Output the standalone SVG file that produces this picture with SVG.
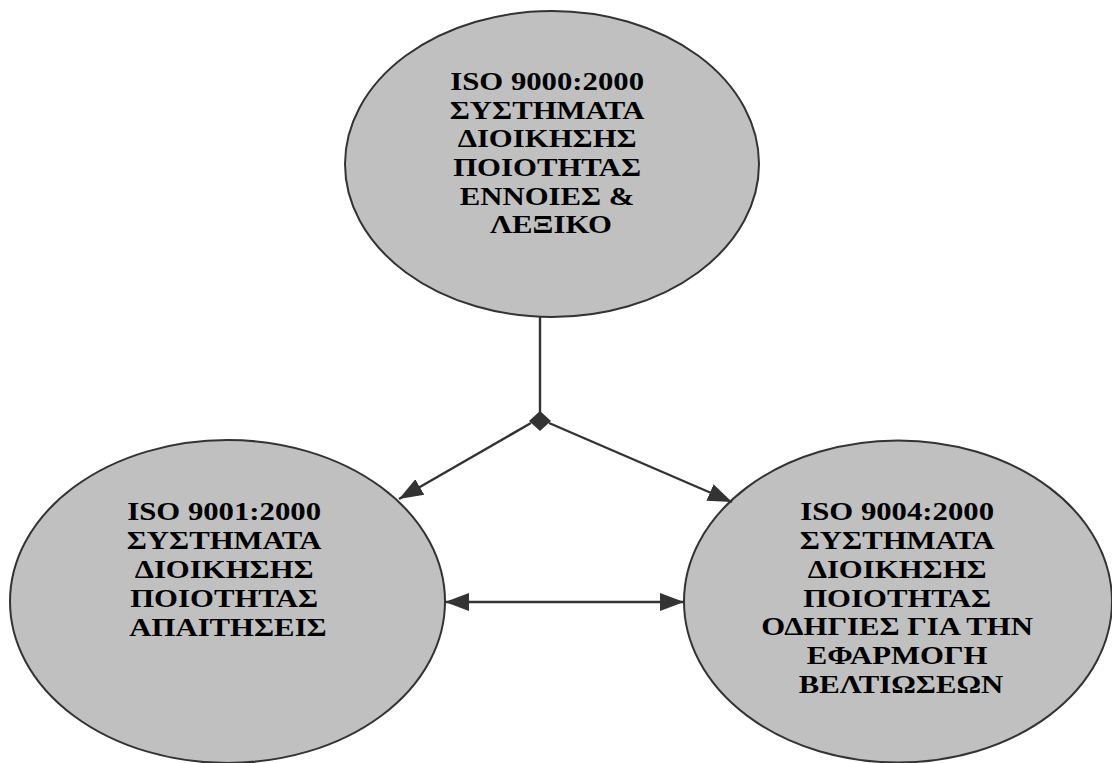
<svg xmlns="http://www.w3.org/2000/svg" width="1112" height="763" viewBox="0 0 1112 763">
<style>
.node{fill:#c0c0c0;stroke:#333;stroke-width:2}
.lbl{font-family:"Liberation Serif","Times New Roman",serif;font-weight:bold;font-size:25px;fill:#000;text-anchor:middle}
.conn{stroke:#333;stroke-width:2.4;fill:none}
</style>
<defs>
<marker id="ah" markerUnits="userSpaceOnUse" markerWidth="24" markerHeight="20" refX="24" refY="10" orient="auto-start-reverse" viewBox="0 0 24 20">
<path d="M0,1 L24,10 L0,19 z" fill="#333"/>
</marker>
</defs>
<rect width="1112" height="763" fill="#fff"/>
<g id="node-iso9000">
<ellipse class="node" cx="552" cy="164" rx="207" ry="153"/>
<text class="lbl" transform="translate(551,0) scale(1.23,1)">
<tspan x="0" y="90">ISO 9000:2000</tspan>
<tspan x="0" y="118.7">ΣΥΣΤΗΜΑΤΑ</tspan>
<tspan x="0" y="147.4">ΔΙΟΙΚΗΣΗΣ</tspan>
<tspan x="0" y="176.1">ΠΟΙΟΤΗΤΑΣ</tspan>
<tspan x="0" y="204.8">ΕΝΝΟΙΕΣ &amp;</tspan>
<tspan x="0" y="233.5">ΛΕΞΙΚΟ</tspan>
</text>
</g>
<g id="node-iso9001">
<ellipse class="node" cx="227.5" cy="601.5" rx="217.5" ry="161.5"/>
<text class="lbl" transform="translate(228,0) scale(1.23,1)">
<tspan x="0" y="520">ISO 9001:2000</tspan>
<tspan x="0" y="549">ΣΥΣΤΗΜΑΤΑ</tspan>
<tspan x="0" y="578">ΔΙΟΙΚΗΣΗΣ</tspan>
<tspan x="0" y="607">ΠΟΙΟΤΗΤΑΣ</tspan>
<tspan x="0" y="636">ΑΠΑΙΤΗΣΕΙΣ</tspan>
</text>
</g>
<g id="node-iso9004">
<ellipse class="node" cx="898" cy="601.5" rx="214" ry="161"/>
<text class="lbl" transform="translate(901,0) scale(1.23,1)">
<tspan x="0" y="520">ISO 9004:2000</tspan>
<tspan x="0" y="549">ΣΥΣΤΗΜΑΤΑ</tspan>
<tspan x="0" y="578">ΔΙΟΙΚΗΣΗΣ</tspan>
<tspan x="0" y="607">ΠΟΙΟΤΗΤΑΣ</tspan>
<tspan x="0" y="635">ΟΔΗΓΙΕΣ ΓΙΑ ΤΗΝ</tspan>
<tspan x="0" y="664">ΕΦΑΡΜΟΓΗ</tspan>
<tspan x="0" y="693">ΒΕΛΤΙΩΣΕΩΝ</tspan>
</text>
</g>
<g id="connectors">
<line class="conn" x1="540" y1="317" x2="540" y2="413"/>
<polygon points="540,411 551,421 540,431 529,421" fill="#333"/>
<line class="conn" x1="531" y1="423" x2="399" y2="499" marker-end="url(#ah)"/>
<line class="conn" x1="549" y1="423" x2="732" y2="502" marker-end="url(#ah)"/>
<line class="conn" x1="445" y1="602" x2="684" y2="602" marker-start="url(#ah)" marker-end="url(#ah)"/>
</g>
</svg>
